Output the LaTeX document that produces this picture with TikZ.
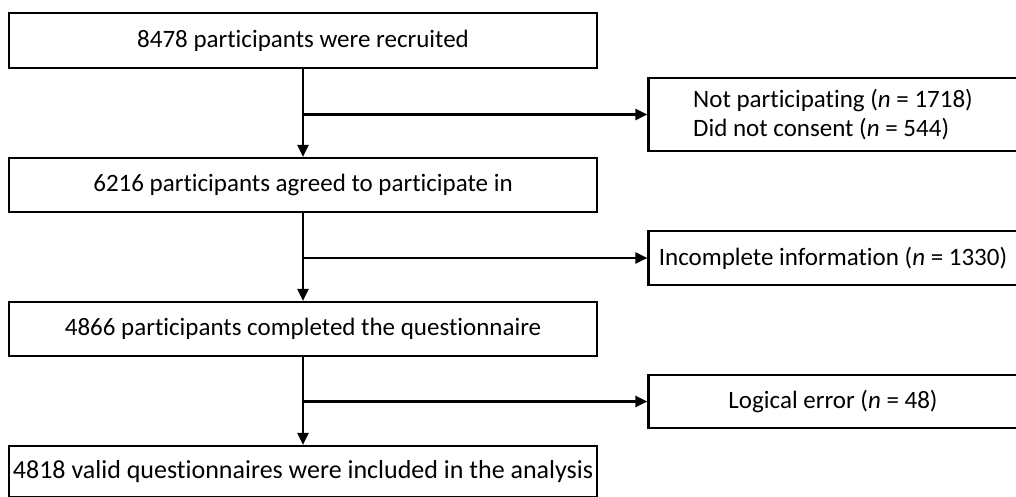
\documentclass[tikz,border=0pt]{standalone}
\usepackage{fontspec}
\setmainfont{Carlito}[Ligatures=NoCommon]
\usetikzlibrary{arrows.meta}
\begin{document}
\begin{tikzpicture}[x=1pt,y=-1pt,
  box/.style={draw=black,line width=2.2pt,rectangle,inner sep=0pt,font=\fontsize{25}{29}\selectfont},
  mainbox/.style={box,minimum width=588pt},
  sidebox/.style={box,minimum width=369pt,align=left},
  flow/.style={line width=2.2pt,-{Triangle[length=12pt,width=11pt]}},
  branch/.style={line width=2.2pt,-{Triangle[length=12pt,width=11pt]}}]
\useasboundingbox (0,0) rectangle (1016,496);
\node[mainbox,minimum height=55pt] (b1) at (303,40.5) {8478 participants were recruited};
\node[mainbox,minimum height=54pt] (b2) at (303,185) {6216 participants agreed to participate in};
\node[mainbox,minimum height=54pt] (b3) at (303,329) {4866 participants completed the questionnaire};
\node[mainbox,minimum height=51pt,font=\fontsize{26}{30}\selectfont] (b4) at (303,471.5) {4818 valid questionnaires were included in the analysis};
\node[sidebox,minimum height=73pt] (r1) at (833,114.5) {Not participating (\textit{n} = 1718)\\Did not consent (\textit{n} = 544)};
\node[sidebox,minimum height=54pt] (r2) at (833,258) {Incomplete information (\textit{n} = 1330)};
\node[sidebox,minimum height=53pt] (r3) at (833,401.5) {Logical error (\textit{n} = 48)};
\coordinate (j1) at (b1.south |- r1.west);
\coordinate (j2) at (b2.south |- r2.west);
\coordinate (j3) at (b3.south |- r3.west);
\draw[flow] (b1.south) -- (b2.north);
\draw[flow] (b2.south) -- (b3.north);
\draw[flow] (b3.south) -- (b4.north);
\draw[branch] (j1) -- (r1.west);
\draw[branch] (j2) -- (r2.west);
\draw[branch] (j3) -- (r3.west);
\end{tikzpicture}
\end{document}
